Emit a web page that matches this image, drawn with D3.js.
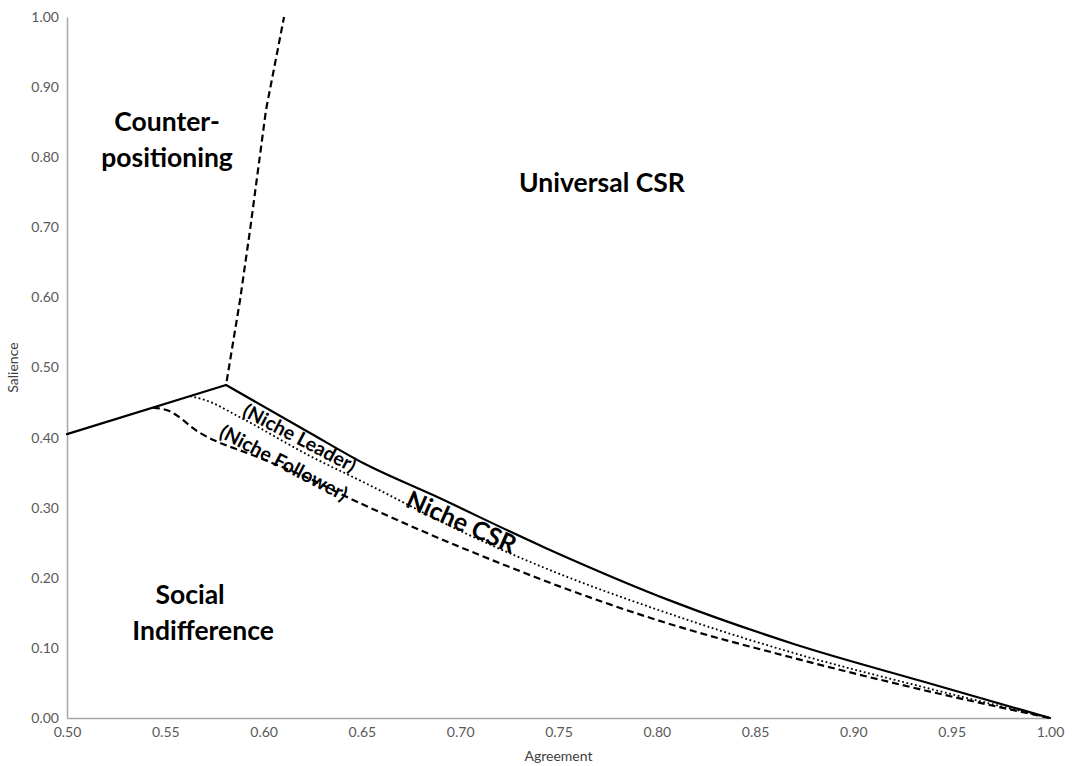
<!DOCTYPE html>
<html>
<head>
<meta charset="utf-8">
<script src="https://cdn.jsdelivr.net/npm/d3@7"></script>
<style>
  body { margin: 0; background: #fff; }
  svg text { font-family: Lato, "Open Sans", sans-serif; }
</style>
</head>
<body>
<div id="chart"></div>
<script>
// [agreement, salience]
const risingLine = [
  [0.500, 0.405], [0.5809, 0.475]
];
const boundaryLine = [
  [0.5809, 0.475], [0.6236, 0.4066], [0.6506, 0.3638],
  [0.6862, 0.318], [0.7431, 0.243], [0.8082, 0.166], [0.8693, 0.106],
  [0.9354, 0.052], [1.000, 0.000]
];
const leaderLine = [
  [0.5626, 0.459], [0.5702, 0.4536], [0.588, 0.429], [0.6236, 0.3738],
  [0.6506, 0.3367], [0.7034, 0.2625], [0.7406, 0.2168], [0.8082, 0.147],
  [0.8677, 0.0942], [0.9354, 0.0442], [1.000, 0.000]
];
const followerLine = [
  [0.5437, 0.4428], [0.5509, 0.439], [0.5677, 0.4066], [0.5982, 0.3709],
  [0.6236, 0.341], [0.6424, 0.3153], [0.6795, 0.2682], [0.7238, 0.2168],
  [0.7406, 0.1983], [0.8082, 0.1327], [0.8677, 0.087], [0.9354, 0.040],
  [1.000, 0.000]
];
const counterLine = [
  [0.5809, 0.475], [0.588, 0.596], [0.5931, 0.696], [0.6012, 0.867], [0.6104, 1.000]
];

const xTicks = [0.50, 0.55, 0.60, 0.65, 0.70, 0.75, 0.80, 0.85, 0.90, 0.95, 1.00];
const yTicks = [0.00, 0.10, 0.20, 0.30, 0.40, 0.50, 0.60, 0.70, 0.80, 0.90, 1.00];

// region labels: text, agreement, salience, size, rotation
const regionLabels = [
  ['Counter-', 0.5509, 0.8516, 26.5, 0],
  ['positioning', 0.5509, 0.800, 26.5, 0],
  ['Universal CSR', 0.7721, 0.7646, 26.5, 0],
  ['Social', 0.5626, 0.1769, 26.5, 0],
  ['Indifference', 0.5692, 0.1255, 26.5, 0],
  ['Niche CSR', 0.7009, 0.281, 25, 24],
  ['(Niche Leader)', 0.6185, 0.4004, 19.5, 27.5],
  ['(Niche Follower)', 0.6104, 0.3648, 19.5, 27.5]
];

const width = 1074, height = 766;
const margin = {top: 17, right: 24, bottom: 48, left: 67};

const svg = d3.select('#chart').append('svg')
  .attr('width', width)
  .attr('height', height);

const x = d3.scaleLinear().domain([0.5, 1.0]).range([margin.left, width - margin.right]);
const y = d3.scaleLinear().domain([0, 1]).range([height - margin.bottom, margin.top]);

// axes
const xAxis = svg.append('g')
  .attr('transform', 'translate(0,' + y(0) + ')')
  .call(d3.axisBottom(x).tickValues(xTicks).tickFormat(d3.format('.2f')).tickSize(0).tickPadding(9));
const yAxis = svg.append('g')
  .attr('transform', 'translate(' + x(0.5) + ',0)')
  .call(d3.axisLeft(y).tickValues(yTicks).tickFormat(d3.format('.2f')).tickSize(0).tickPadding(8));

[xAxis, yAxis].forEach(g => {
  g.select('.domain').attr('stroke', '#a6a6a6').attr('stroke-width', 1.5);
  g.selectAll('text').attr('font-size', 14).attr('fill', '#595959')
    .attr('font-family', 'Lato, "Open Sans", sans-serif');
});

svg.append('text')
  .attr('x', x(0.75)).attr('y', height - 5)
  .attr('text-anchor', 'middle')
  .attr('font-size', 14).attr('fill', '#404040')
  .text('Agreement');

svg.append('text')
  .attr('transform', 'translate(18,' + y(0.5) + ') rotate(-90)')
  .attr('text-anchor', 'middle')
  .attr('font-size', 14).attr('fill', '#404040')
  .text('Salience');

const lineLinear = d3.line().x(d => x(d[0])).y(d => y(d[1]));
const lineSmooth = d3.line().curve(d3.curveMonotoneX).x(d => x(d[0])).y(d => y(d[1]));

svg.append('path')
  .attr('d', lineSmooth(followerLine))
  .attr('fill', 'none').attr('stroke', '#000')
  .attr('stroke-width', 2.2).attr('stroke-dasharray', '7,4');

svg.append('path')
  .attr('d', lineSmooth(leaderLine))
  .attr('fill', 'none').attr('stroke', '#000')
  .attr('stroke-width', 1.8).attr('stroke-dasharray', '1.8,2.6');

svg.append('path')
  .attr('d', lineLinear(risingLine))
  .attr('fill', 'none').attr('stroke', '#000')
  .attr('stroke-width', 2.2).attr('stroke-linecap', 'round');

svg.append('path')
  .attr('d', lineSmooth(boundaryLine))
  .attr('fill', 'none').attr('stroke', '#000')
  .attr('stroke-width', 2.2).attr('stroke-linecap', 'round');

svg.append('path')
  .attr('d', lineLinear(counterLine))
  .attr('fill', 'none').attr('stroke', '#000')
  .attr('stroke-width', 2.2).attr('stroke-dasharray', '7,4')
  .attr('stroke-dashoffset', -4);

// region labels
svg.append('g').selectAll('text')
  .data(regionLabels)
  .enter()
  .append('text')
  .attr('transform', d => 'translate(' + x(d[1]) + ',' + y(d[2]) + ') rotate(' + d[4] + ')')
  .attr('text-anchor', 'middle')
  .attr('dominant-baseline', 'central')
  .attr('font-size', d => d[3])
  .attr('font-weight', 'bold')
  .attr('fill', '#000')
  .text(d => d[0]);
</script>
</body>
</html>
